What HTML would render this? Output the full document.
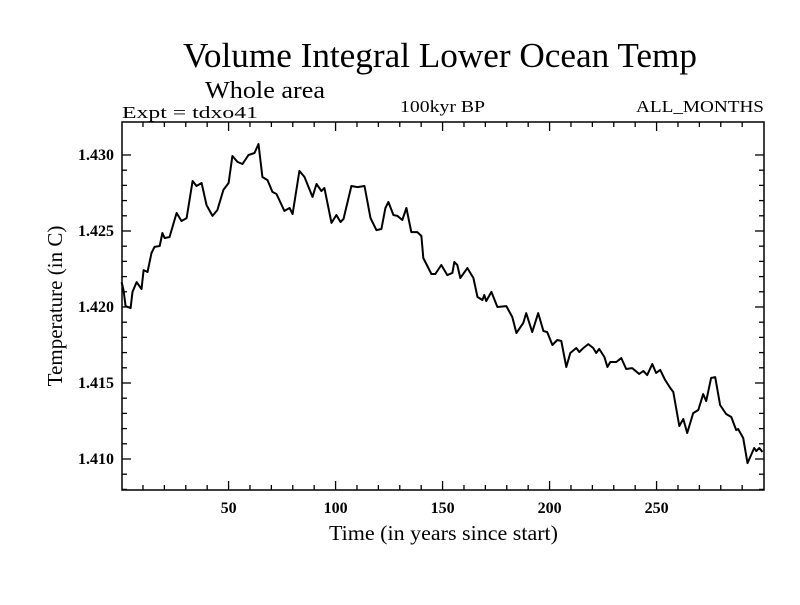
<!DOCTYPE html>
<html><head><meta charset="utf-8"><style>
html,body{margin:0;padding:0;background:#fff;}
svg text{font-family:"Liberation Serif",serif;fill:#000;}
</style></head><body>
<svg id="chart" width="800" height="600" xmlns="http://www.w3.org/2000/svg">
<rect width="800" height="600" fill="#fff"/>
<text x="183" y="67" font-size="35" textLength="514" lengthAdjust="spacingAndGlyphs">Volume Integral Lower Ocean Temp</text>
<text x="205" y="98" font-size="24" textLength="120" lengthAdjust="spacingAndGlyphs">Whole area</text>
<text x="122" y="118" font-size="17" textLength="136" lengthAdjust="spacingAndGlyphs">Expt = tdxo41</text>
<text x="400" y="112" font-size="17" textLength="85" lengthAdjust="spacingAndGlyphs">100kyr BP</text>
<text x="636" y="112" font-size="17" textLength="128" lengthAdjust="spacingAndGlyphs">ALL_MONTHS</text>
<g id="axes"></g>
<rect x="122" y="122" width="642" height="368" fill="none" stroke="#000" stroke-width="1.5"/>
<text x="329" y="540" font-size="21" textLength="229" lengthAdjust="spacingAndGlyphs">Time (in years since start)</text>
<text transform="translate(62,306) rotate(-90)" font-size="21" text-anchor="middle">Temperature (in C)</text>
<path id="line" fill="none" stroke="#000" stroke-width="2" stroke-linejoin="round"/>
</svg>
<script>
const years=[0,0.9,1.9,4.2,5.1,7.0,9.3,10.3,12.1,14.0,15.4,17.8,19.1,20.1,22.4,25.7,28.0,30.4,33.2,35.0,37.4,39.7,42.5,44.8,47.6,50.0,51.8,54.2,56.5,59.3,62.1,64.0,65.8,68.2,70.5,72.4,76.1,78.5,79.9,83.1,85.5,89.2,91.1,93.4,94.8,98.1,100.4,102.3,103.7,107.4,110.2,113.5,116.3,119.1,121.4,123.3,124.7,127.0,128.9,131.2,133.1,135.4,138.2,140.1,141.0,144.8,146.6,149.4,152.2,154.6,155.5,156.9,158.3,161.6,164.4,166.3,168.6,169.5,170.4,172.8,175.6,179.8,182.6,184.5,187.7,189.1,191.9,194.7,197.1,198.9,201.3,203.6,205.5,207.8,209.7,212.5,213.9,215.8,218.1,220.4,221.8,223.2,225.6,227.0,228.4,231.2,233.5,235.8,238.6,241.9,243.8,245.6,248.0,249.8,251.7,254.0,256.4,257.8,260.6,262.5,264.3,267.1,269.5,271.8,273.2,275.5,277.4,279.7,282.5,284.9,287.2,288.1,290.5,292.5,295.6,296.6,298.0,299.5];
const temps=[1.42164,1.42112,1.42006,1.41993,1.42099,1.42164,1.42118,1.42243,1.42230,1.42355,1.42395,1.42401,1.42487,1.42454,1.42460,1.42618,1.42566,1.42585,1.42829,1.42796,1.42816,1.42671,1.42599,1.42638,1.42770,1.42816,1.42993,1.42954,1.42941,1.43000,1.43013,1.43072,1.42855,1.42835,1.42757,1.42743,1.42632,1.42651,1.42612,1.42895,1.42855,1.42724,1.42809,1.42763,1.42783,1.42553,1.42605,1.42559,1.42579,1.42796,1.42789,1.42796,1.42585,1.42506,1.42513,1.42651,1.42691,1.42605,1.42599,1.42572,1.42651,1.42493,1.42493,1.42467,1.42322,1.42217,1.42217,1.42276,1.42210,1.42224,1.42296,1.42276,1.42191,1.42256,1.42191,1.42066,1.42046,1.42079,1.42039,1.42099,1.42000,1.42006,1.41934,1.41829,1.41895,1.41960,1.41835,1.41960,1.41842,1.41835,1.41750,1.41783,1.41776,1.41605,1.41697,1.41730,1.41704,1.41730,1.41756,1.41730,1.41697,1.41724,1.41671,1.41605,1.41638,1.41638,1.41664,1.41592,1.41598,1.41559,1.41579,1.41552,1.41625,1.41566,1.41586,1.41520,1.41467,1.41441,1.41217,1.41263,1.41171,1.41302,1.41322,1.41427,1.41381,1.41533,1.41539,1.41355,1.41296,1.41276,1.41190,1.41197,1.41138,1.40973,1.41072,1.41052,1.41072,1.41046];
const xTickLabels=[50,100,150,200,250];
const yTickLabels=["1.410","1.415","1.420","1.425","1.430"];
const X0=122,X1=764,Y0=490,Y1=122;
const xMin=0.2,xMax=300.2,yMin=1.40796,yMax=1.43217;
function sx(v){return X0+(v-xMin)/(xMax-xMin)*(X1-X0);}
function sy(v){return Y0-(v-yMin)/(yMax-yMin)*(Y0-Y1);}
const NS="http://www.w3.org/2000/svg";
const ax=document.getElementById('axes');
function ln(x1,y1,x2,y2){const l=document.createElementNS(NS,'line');l.setAttribute('x1',x1);l.setAttribute('y1',y1);l.setAttribute('x2',x2);l.setAttribute('y2',y2);l.setAttribute('stroke','#000');l.setAttribute('stroke-width','1.3');


ax.appendChild(l);}
for(let v=10;v<300;v+=10){const x=sx(v);const L=(v%50===0)?9:5;ln(x,Y0,x,Y0-L);ln(x,Y1,x,Y1+L);}
for(let k=0;k<=22;k++){const v=1.408+k*0.001;if(v>yMax)break;const y=sy(v);const L=(k%5===2)?9:5;ln(X0,y,X0+L,y);ln(X1,y,X1-L,y);}
xTickLabels.forEach(v=>{const t=document.createElementNS(NS,'text');t.setAttribute('x',sx(v));t.setAttribute('y',Y0+23);t.setAttribute('font-size','16');t.setAttribute('font-weight','bold');t.setAttribute('text-anchor','middle');t.textContent=v;


ax.appendChild(t);});
yTickLabels.forEach(s=>{const t=document.createElementNS(NS,'text');t.setAttribute('x',X0-8);t.setAttribute('y',sy(parseFloat(s))+5);t.setAttribute('font-size','16');t.setAttribute('font-weight','bold');t.setAttribute('text-anchor','end');t.textContent=s;


ax.appendChild(t);});
document.getElementById('line').setAttribute('d',years.map((y,i)=>(i?'L':'M')+sx(y).toFixed(1)+','+sy(temps[i]).toFixed(1)).join(''));
</script>
</body></html>
